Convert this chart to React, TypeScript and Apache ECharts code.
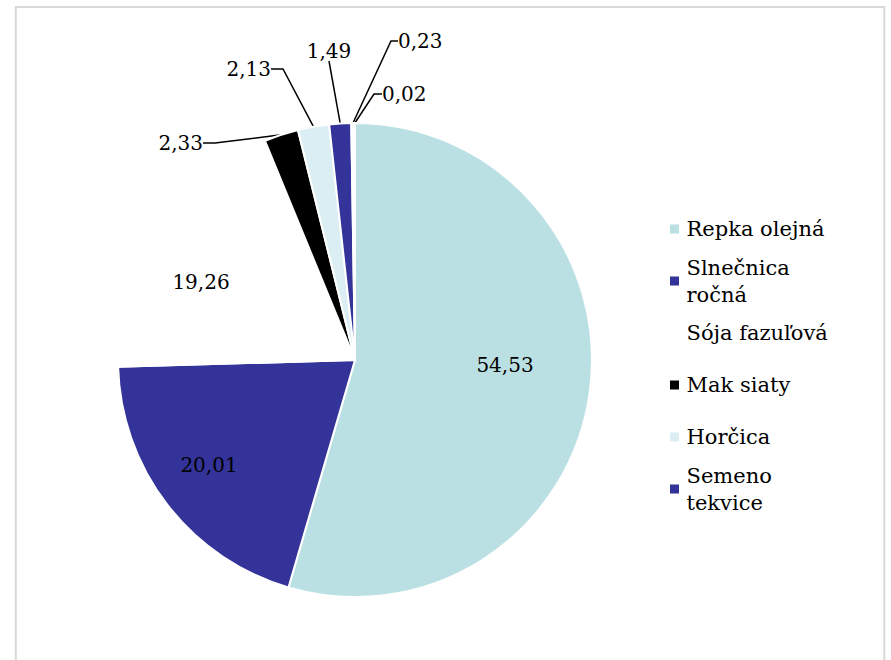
import React, { useEffect, useRef } from 'react';
import * as echarts from 'echarts';

// ---- data ----
const categories = [
  'Repka olejná',
  'Slnečnica ročná',
  'Sója fazuľová',
  'Mak siaty',
  'Horčica',
  'Semeno tekvice',
  'Ostatné 1',
  'Ostatné 2',
];
const shares = [54.53, 20.01, 19.26, 2.33, 2.13, 1.49, 0.23, 0.02];
const legendItems = categories.slice(0, 6);

// ---- styles / layout ----
const sliceColors = ['#BBE0E3', '#333399', '#FFFFFF', '#000000', '#DAEEF3', '#333399', '#FFFFFF', '#FFFFFF'];
const FONT = 'DejaVu Serif';
const LEGEND_LINE = 27;

// per-slice label styling (inside or outside with leader line)
const labelStyles: any[] = [
  { position: 'inside', padding: 0, line: false, length2: 0 },
  { position: 'inside', padding: 0, line: false, length2: 0 },
  { position: 'inside', padding: 0, line: false, length2: 0 },
  { position: 'outside', padding: [0, 7, 15, 0], line: true, length2: 12 },
  { position: 'outside', padding: [0, 6, 14, 0], line: true, length2: 12 },
  { position: 'outside', padding: 0, line: true, length2: 0 },
  { position: 'outside', padding: [0, 0, 11, 8], line: true, length2: 7 },
  { position: 'outside', padding: [0, 0, 9, 6], line: true, length2: 8 },
];
// label anchor placement (layout only)
const labelPlacement: any[] = [
  { x: 505, y: 365, align: 'center' },
  { x: 209, y: 465, align: 'center' },
  { x: 201, y: 282, align: 'center' },
  { x: 210, y: 143, align: 'right' },
  { x: 277, y: 69, align: 'right' },
  { x: 329, y: 51, align: 'center' },
  { x: 390, y: 41, align: 'left' },
  { x: 376, y: 94, align: 'left' },
];
const legendCenters = [229, 281, 333, 385, 437, 489];
const legendWraps = [false, true, false, false, false, true];

export default function App() {
  const ref = useRef<HTMLDivElement>(null);
  useEffect(() => {
    document.body.style.margin = '0';
    if (!ref.current) return;
    const chart = echarts.init(ref.current, undefined, { renderer: 'svg' });

    const data = categories.map((name, i) => ({
      name,
      value: shares[i],
      itemStyle: { color: sliceColors[i] },
      label: {
        show: true,
        position: labelStyles[i].position,
        padding: labelStyles[i].padding,
      },
      labelLine: {
        show: labelStyles[i].line,
        length: 5,
        length2: labelStyles[i].length2,
      },
    }));

    const legends = legendItems.map((name, i) => ({
      data: [name],
      orient: 'vertical',
      left: 670,
      top: legendCenters[i] - (legendWraps[i] ? LEGEND_LINE * 1.5 : LEGEND_LINE / 2),
      padding: 0,
      icon: 'path://M0,0L1,0L1,1L0,1Z',
      itemWidth: 14,
      itemHeight: 9,
      symbolKeepAspect: true,
      selectedMode: false,
      itemStyle: { borderWidth: 0 },
      formatter: (n: string) => (legendWraps[i] ? n.replace(' ', '\n') : n),
      textStyle: {
        fontFamily: FONT,
        fontSize: 21,
        color: '#000',
        lineHeight: LEGEND_LINE,
        padding: legendWraps[i] ? [LEGEND_LINE, 0, 0, 0] : 0,
      },
    }));

    chart.setOption({
      animation: false,
      backgroundColor: '#fff',
      textStyle: { fontFamily: FONT },
      graphic: [
        {
          type: 'rect',
          shape: { x: 15.8, y: 7, width: 868.5, height: 700 },
          style: { fill: 'none', stroke: '#D9D9D9', lineWidth: 2 },
          silent: true,
        },
      ],
      legend: legends,
      series: [
        {
          type: 'pie',
          center: [355, 360],
          radius: 237,
          startAngle: 90,
          clockwise: true,
          avoidLabelOverlap: false,
          minShowLabelAngle: 0,
          itemStyle: { borderColor: '#FFFFFF', borderWidth: 2 },
          emphasis: { disabled: true },
          label: {
            fontFamily: FONT,
            fontSize: 20,
            color: '#000',
            formatter: (p: any) => Number(p.value).toFixed(2).replace('.', ','),
          },
          labelLine: {
            lineStyle: { color: '#000', width: 1.5 },
            minTurnAngle: 60,
          },
          labelLayout: (params: any) => {
            const pl = labelPlacement[params.dataIndex];
            return { x: pl.x, y: pl.y, align: pl.align, verticalAlign: 'middle' };
          },
          data,
        },
      ],
    });
    return () => chart.dispose();
  }, []);
  return <div ref={ref} style={{ width: 891, height: 660 }} />;
}
